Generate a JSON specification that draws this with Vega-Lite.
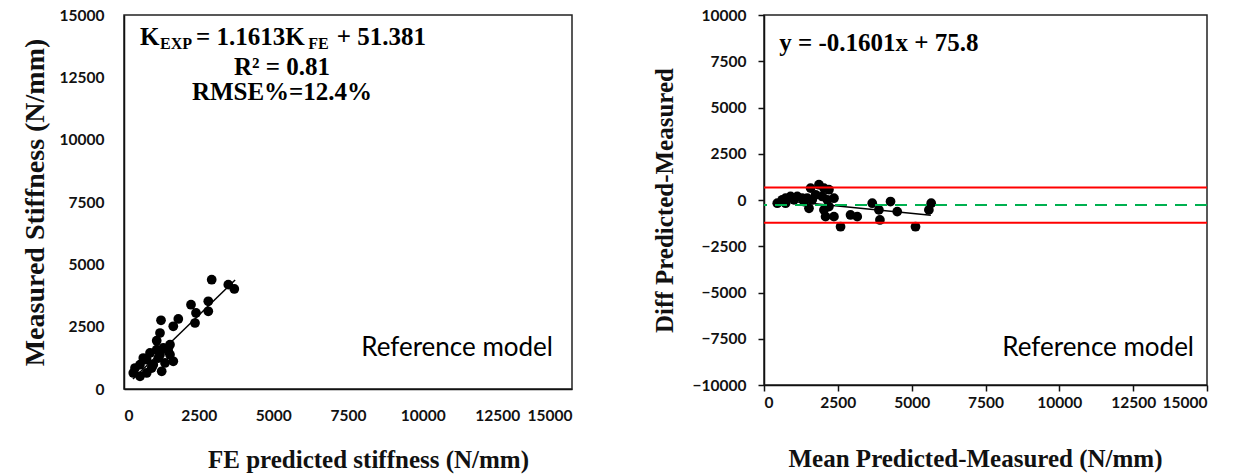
{
  "$schema": "https://vega.github.io/schema/vega-lite/v6.json",
  "background": "white",
  "padding": {"left": 20, "top": 7, "right": 5, "bottom": 5},
  "spacing": 78,
  "config": {
    "view": {"stroke": "#222", "strokeWidth": 1.5},
    "axis": {
      "grid": false,
      "domainColor": "#111",
      "domainWidth": 1.5,
      "tickColor": "#111",
      "tickWidth": 1.5,
      "labelFont": "Lato",
      "labelFontWeight": "bold",
      "labelFontSize": 15.5,
      "labelColor": "#111",
      "labelOverlap": false,
      "format": "d",
      "titleFont": "Liberation Serif",
      "titleFontWeight": "bold",
      "titleFontSize": 25,
      "titleColor": "#111"
    }
  },
  "datasets": {
    "left": [
      {"fe": 2936, "meas": 4384}, {"fe": 3492, "meas": 4184}, {"fe": 3693, "meas": 4011},
      {"fe": 2243, "meas": 3381}, {"fe": 2822, "meas": 3518}, {"fe": 2822, "meas": 3117},
      {"fe": 2410, "meas": 3049}, {"fe": 2377, "meas": 2647}, {"fe": 1239, "meas": 2756},
      {"fe": 1818, "meas": 2808}, {"fe": 1650, "meas": 2515}, {"fe": 1205, "meas": 2246},
      {"fe": 1095, "meas": 1937}, {"fe": 1540, "meas": 1777}, {"fe": 1316, "meas": 1645},
      {"fe": 1540, "meas": 1376}, {"fe": 870, "meas": 1444}, {"fe": 1650, "meas": 1111},
      {"fe": 981, "meas": 975}, {"fe": 1262, "meas": 710}, {"fe": 760, "meas": 1175},
      {"fe": 646, "meas": 1243}, {"fe": 536, "meas": 975}, {"fe": 368, "meas": 842},
      {"fe": 311, "meas": 642}, {"fe": 536, "meas": 509}, {"fe": 760, "meas": 642},
      {"fe": 927, "meas": 842}, {"fe": 1148, "meas": 1243}, {"fe": 1373, "meas": 1043},
      {"fe": 1483, "meas": 1524}, {"fe": 1095, "meas": 1576}, {"fe": 1205, "meas": 1376}
    ],
    "leftfit": [{"fe": 300, "meas": 400}, {"fe": 3720, "meas": 4370}],
    "ba": [
      {"mean": 619, "diff": 11}, {"mean": 731, "diff": 98}, {"mean": 900, "diff": 191},
      {"mean": 1015, "diff": 11}, {"mean": 1127, "diff": 191}, {"mean": 1296, "diff": 98},
      {"mean": 1353, "diff": -82}, {"mean": 1523, "diff": -447}, {"mean": 1634, "diff": 11},
      {"mean": 1577, "diff": 643}, {"mean": 1861, "diff": 828}, {"mean": 2030, "diff": 643},
      {"mean": 2199, "diff": 556}, {"mean": 1973, "diff": 191}, {"mean": 2143, "diff": 11},
      {"mean": 2030, "diff": -534}, {"mean": 2084, "diff": -899}, {"mean": 2369, "diff": 98},
      {"mean": 2369, "diff": -899}, {"mean": 2592, "diff": -1444}, {"mean": 2930, "diff": -807},
      {"mean": 3157, "diff": -899}, {"mean": 3665, "diff": -174}, {"mean": 3891, "diff": -534},
      {"mean": 3925, "diff": -1079}, {"mean": 4284, "diff": -82}, {"mean": 4511, "diff": -627},
      {"mean": 5130, "diff": -1444}, {"mean": 5583, "diff": -534}, {"mean": 5661, "diff": -174},
      {"mean": 731, "diff": -174}, {"mean": 1465, "diff": 98}, {"mean": 1746, "diff": 283},
      {"mean": 2199, "diff": -354}, {"mean": 450, "diff": -174}
    ],
    "bafit": [{"mean": 450, "diff": 4}, {"mean": 5650, "diff": -829}],
    "limits": [
      {"kind": "upper", "value": 681},
      {"kind": "lower", "value": -1226}
    ],
    "meanline": [{"value": -272}]
  },
  "hconcat": [
    {
      "width": 448,
      "height": 374,
      "layer": [
        {
          "data": {"name": "left"},
          "mark": {"type": "circle", "size": 95, "color": "black", "opacity": 1},
          "encoding": {
            "x": {"field": "fe", "type": "quantitative",
              "scale": {"domain": [0, 15000], "nice": false},
              "axis": {"values": [0, 2500, 5000, 7500, 10000, 12500, 15000], "ticks": false, "labelPadding": 19, "title": "FE predicted stiffness (N/mm)", "titlePadding": 24, "titleX": 244}},
            "y": {"field": "meas", "type": "quantitative",
              "scale": {"domain": [0, 15000], "nice": false},
              "axis": {"values": [0, 2500, 5000, 7500, 10000, 12500, 15000], "ticks": false, "labelPadding": 20, "title": "Measured Stiffness (N/mm)", "titleFontSize": 28, "titlePadding": 10}}
          }
        },
        {
          "data": {"name": "leftfit"},
          "mark": {"type": "line", "color": "black", "strokeWidth": 1.5},
          "encoding": {
            "x": {"field": "fe", "type": "quantitative"},
            "y": {"field": "meas", "type": "quantitative"}
          }
        },
        {
          "data": {"values": [
            {"x": 536, "y": 13800, "t": "K"},
            {"x": 2410, "y": 13800, "t": "= 1.1613K"},
            {"x": 7120, "y": 13800, "t": "+ 51.381"}
          ]},
          "mark": {"type": "text", "align": "left", "baseline": "alphabetic", "font": "Liberation Serif", "fontWeight": "bold", "fontSize": 25, "color": "black"},
          "encoding": {
            "x": {"field": "x", "type": "quantitative"},
            "y": {"field": "y", "type": "quantitative"},
            "text": {"field": "t"}
          }
        },
        {
          "data": {"values": [
            {"x": 1205, "y": 13640, "t": "EXP"},
            {"x": 6170, "y": 13640, "t": "FE"}
          ]},
          "mark": {"type": "text", "align": "left", "baseline": "alphabetic", "font": "Liberation Serif", "fontWeight": "bold", "fontSize": 16, "color": "black"},
          "encoding": {
            "x": {"field": "x", "type": "quantitative"},
            "y": {"field": "y", "type": "quantitative"},
            "text": {"field": "t"}
          }
        },
        {
          "data": {"values": [
            {"x": 5290, "y": 12900, "t": "R² = 0.81"},
            {"x": 5290, "y": 11900, "t": "RMSE%=12.4%"}
          ]},
          "mark": {"type": "text", "align": "center", "baseline": "middle", "font": "Liberation Serif", "fontWeight": "bold", "fontSize": 25, "color": "black"},
          "encoding": {
            "x": {"field": "x", "type": "quantitative"},
            "y": {"field": "y", "type": "quantitative"},
            "text": {"field": "t"}
          }
        },
        {
          "data": {"values": [{"x": 14362, "y": 1645, "t": "Reference model"}]},
          "mark": {"type": "text", "align": "right", "baseline": "middle", "font": "Lato", "fontSize": 26, "color": "black"},
          "encoding": {
            "x": {"field": "x", "type": "quantitative"},
            "y": {"field": "y", "type": "quantitative"},
            "text": {"field": "t"}
          }
        }
      ]
    },
    {
      "width": 443,
      "height": 370,
      "layer": [
        {
          "data": {"name": "ba"},
          "mark": {"type": "circle", "size": 95, "color": "black", "opacity": 1},
          "encoding": {
            "x": {"field": "mean", "type": "quantitative",
              "scale": {"domain": [0, 15000], "nice": false},
              "axis": {"values": [0, 2500, 5000, 7500, 10000, 12500, 15000], "tickSize": 6, "labelPadding": 4, "title": "Mean Predicted-Measured (N/mm)", "titlePadding": 36, "titleX": 211}},
            "y": {"field": "diff", "type": "quantitative",
              "scale": {"domain": [-10000, 10000], "nice": false},
              "axis": {"values": [-10000, -7500, -5000, -2500, 0, 2500, 5000, 7500, 10000], "tickSize": 6, "labelPadding": 12, "title": "Diff Predicted-Measured", "titlePadding": 15}}
          }
        },
        {
          "data": {"name": "bafit"},
          "mark": {"type": "line", "color": "black", "strokeWidth": 1.5},
          "encoding": {
            "x": {"field": "mean", "type": "quantitative"},
            "y": {"field": "diff", "type": "quantitative"}
          }
        },
        {
          "data": {"name": "limits"},
          "mark": {"type": "rule", "color": "#FF0000", "strokeWidth": 2},
          "encoding": {
            "y": {"field": "value", "type": "quantitative"}
          }
        },
        {
          "data": {"name": "meanline"},
          "mark": {"type": "rule", "color": "#00B050", "strokeWidth": 2, "strokeDash": [12, 8]},
          "encoding": {
            "y": {"field": "value", "type": "quantitative"}
          }
        },
        {
          "data": {"values": [{"x": 518, "y": 8474, "t": "y = -0.1601x + 75.8"}]},
          "mark": {"type": "text", "align": "left", "baseline": "middle", "font": "Liberation Serif", "fontWeight": "bold", "fontSize": 25, "color": "black"},
          "encoding": {
            "x": {"field": "x", "type": "quantitative"},
            "y": {"field": "y", "type": "quantitative"},
            "text": {"field": "t"}
          }
        },
        {
          "data": {"values": [{"x": 14560, "y": -7984, "t": "Reference model"}]},
          "mark": {"type": "text", "align": "right", "baseline": "middle", "font": "Lato", "fontSize": 26, "color": "black"},
          "encoding": {
            "x": {"field": "x", "type": "quantitative"},
            "y": {"field": "y", "type": "quantitative"},
            "text": {"field": "t"}
          }
        }
      ]
    }
  ]
}
